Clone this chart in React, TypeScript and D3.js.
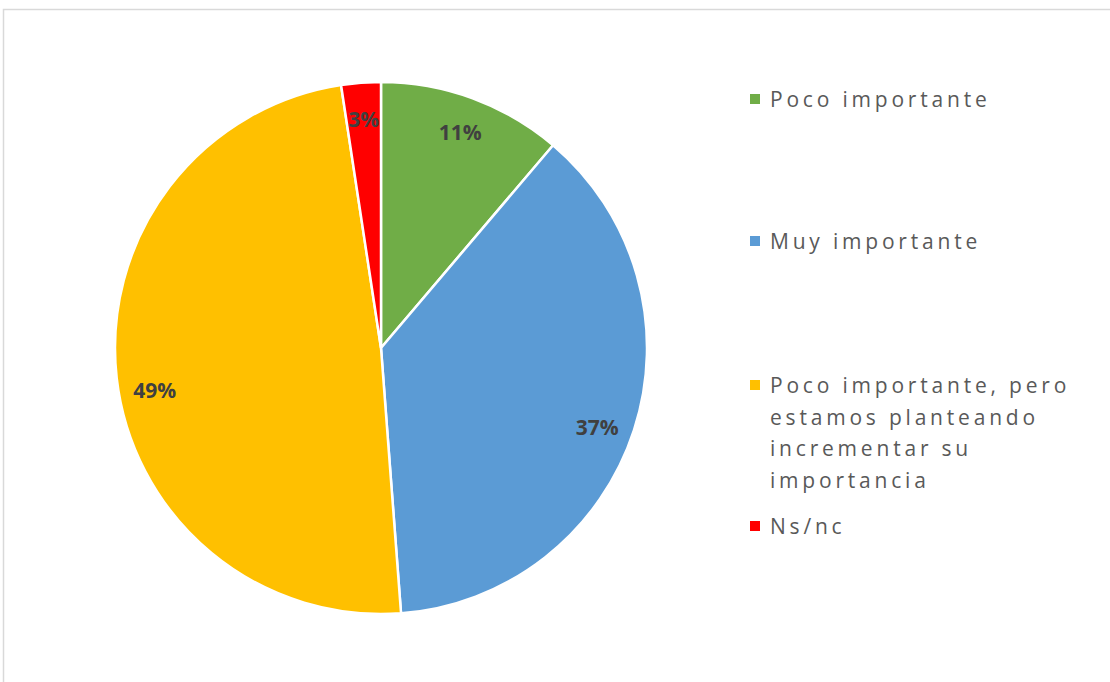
import React from "react";
import * as d3 from "d3";

const categories = [
  "Poco importante",
  "Muy importante",
  "Poco importante, pero estamos planteando incrementar su importancia",
  "Ns/nc",
];
const values = [11.2, 37.6, 48.8, 2.4];
const valueLabels = ["11%", "37%", "49%", "3%"];
const colors = ["#70AD47", "#5B9BD5", "#FFC000", "#FF0000"];
const legendLines = [
  ["Poco importante"],
  ["Muy importante"],
  ["Poco importante, pero", "estamos planteando", "incrementar su", "importancia"],
  ["Ns/nc"],
];
const legendY = [99, 241, 385, 526];
const labelAngleShift = [0, 2, -4, 0];

export default function App() {
  const W = 1110, H = 682;
  const cx = 381, cy = 348, R = 266;
  const pie = d3.pie<number>().sort(null).value((d) => d);
  const arcs = pie(values);
  const arc = d3.arc<d3.PieArcDatum<number>>().innerRadius(0).outerRadius(R);
  const font = "'Open Sans', 'Noto Sans', sans-serif";
  const lr = R * 0.865;
  return (
    <div style={{ position: "absolute", left: 0, top: 0 }}>
      <svg width={W} height={H} style={{ display: "block" }}>
        <rect x={0} y={0} width={W} height={H} fill="#fff" />
        <rect x={3.5} y={9.5} width={W + 10} height={H + 10} fill="none" stroke="#d9d9d9" strokeWidth={1.5} />
        <g transform={`translate(${cx},${cy})`}>
          {arcs.map((a, i) => (
            <path key={i} d={arc(a) || ""} fill={colors[i]} stroke="#fff" strokeWidth={2.5} />
          ))}
          {arcs.map((a, i) => {
            const ang = (a.startAngle + a.endAngle) / 2 + (labelAngleShift[i] * Math.PI) / 180;
            const x = Math.sin(ang) * lr;
            const y = -Math.cos(ang) * lr;
            return (
              <text key={i} x={x} y={y} textAnchor="middle" dominantBaseline="central"
                fontFamily={font} fontWeight="bold" fontSize={21} fill="#404040">
                {valueLabels[i]}
              </text>
            );
          })}
        </g>
        <g>
          {categories.map((c, i) => (
            <g key={c}>
              <rect x={750} y={legendY[i] - 5} width={10} height={10} fill={colors[i]} />
              {legendLines[i].map((ln, j) => (
                <text key={j} x={770} y={legendY[i] + j * 31.5} dominantBaseline="central"
                  fontFamily={font} fontSize={21} letterSpacing={3.8} fill="#595959">
                  {ln}
                </text>
              ))}
            </g>
          ))}
        </g>
      </svg>
    </div>
  );
}
